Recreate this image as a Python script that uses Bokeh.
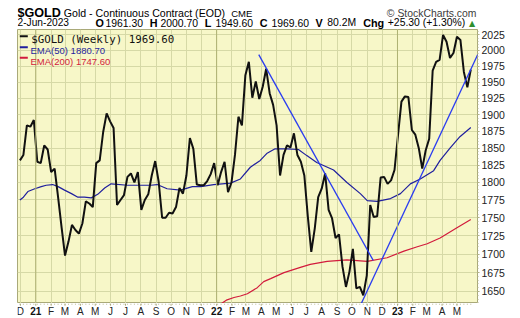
import pandas as pd
from bokeh.plotting import figure
from bokeh.layouts import column
from bokeh.models import (FixedTicker, NumeralTickFormatter, Label,
                          ColumnDataSource, Span, BoxAnnotation, Range1d)
from bokeh.core.properties import value
from bokeh.embed import file_html
from bokeh.resources import INLINE

# ---------------- data ----------------
symbol = "$GOLD"
description = "Gold - Continuous Contract (EOD)"
exchange = "CME"
as_of = "2-Jun-2023"
open_px, high_px, low_px, close_px = "1961.30", "2000.70", "1949.60", "1969.60"
volume = "80.2M"
change = "+25.30 (+1.30%)"
ema50_last = "1880.70"
ema200_last = "1747.60"

first_week = "2020-11-30"
gold_close = [
    1832, 1840, 1884, 1882, 1892, 1830, 1828, 1854, 1848, 1815,
    1820, 1779, 1737, 1698, 1717, 1740, 1733, 1728, 1742, 1773,
    1770, 1765, 1828, 1832, 1874, 1902, 1890, 1880, 1768, 1775,
    1782, 1808, 1813, 1800, 1815, 1761, 1775, 1783, 1810, 1831,
    1801, 1750, 1750, 1757, 1756, 1765, 1792, 1784, 1810, 1865,
    1849, 1797, 1796, 1796, 1802, 1812, 1828, 1796, 1815, 1830,
    1786, 1800, 1840, 1897, 1884, 1961, 1982, 1926, 1951, 1924,
    1943, 1971, 1933, 1915, 1884, 1810, 1840, 1854, 1851, 1872,
    1840, 1830, 1810, 1752, 1703, 1735, 1779, 1791, 1813, 1761,
    1749, 1722, 1727, 1683, 1656, 1676, 1707, 1654, 1656, 1645,
    1671, 1768, 1751, 1752, 1807, 1808, 1798, 1803, 1818, 1869,
    1920, 1928, 1927, 1877, 1870, 1850, 1820, 1847, 1864, 1968,
    1982, 1985, 2025, 2014, 1988, 1996, 2022, 2017, 1966, 1942,
    1969.6,
]

ema50_dates = [
    "2020-11-30", "2020-12-07", "2020-12-16", "2020-12-30", "2021-01-12",
    "2021-01-22", "2021-02-04", "2021-02-15", "2021-02-28", "2021-03-14",
    "2021-03-27", "2021-04-09", "2021-04-23", "2021-05-06", "2021-05-20",
    "2021-06-02", "2021-07-05", "2021-08-21", "2021-09-03", "2021-09-23",
    "2021-10-20", "2021-11-13", "2021-11-30", "2021-12-26", "2022-01-29",
    "2022-02-18", "2022-03-10", "2022-03-30", "2022-04-12", "2022-04-29",
    "2022-05-23", "2022-06-15", "2022-07-02", "2022-07-22", "2022-08-25",
    "2022-09-21", "2022-10-18", "2022-11-01", "2022-11-21", "2022-12-18",
    "2023-01-07", "2023-01-27", "2023-02-16", "2023-03-15", "2023-03-28",
    "2023-04-17", "2023-05-07", "2023-05-29",
]
ema50_values = [
    1775, 1779, 1787, 1791, 1794, 1796, 1797, 1794, 1789, 1784,
    1779, 1779, 1778, 1783, 1792, 1798, 1796, 1796, 1797, 1791,
    1789, 1794, 1794, 1797, 1799, 1805, 1822, 1832, 1842, 1849,
    1849, 1848, 1839, 1829, 1818, 1800, 1784, 1774, 1773, 1777,
    1784, 1798, 1805, 1817, 1832, 1850, 1867, 1880.7,
]

ema200_dates = [
    "2022-01-08", "2022-01-22", "2022-02-05", "2022-02-18", "2022-03-04",
    "2022-03-24", "2022-04-06", "2022-04-20", "2022-05-17", "2022-06-19",
    "2022-07-09", "2022-08-12", "2022-09-21", "2022-11-01", "2022-12-11",
    "2023-01-14", "2023-02-10", "2023-03-02", "2023-03-28", "2023-05-01",
    "2023-05-29",
]
ema200_values = [
    1633, 1639, 1642, 1644, 1647, 1655, 1663, 1667, 1675, 1682,
    1686, 1690, 1692, 1690, 1695, 1704, 1710, 1714, 1722, 1736,
    1747.6,
]

# hand-drawn trendlines (two points each)
down_trend_dates = ["2022-03-27", "2022-11-13"]
down_trend_values = [1993.5, 1691.4]
up_trend_dates = ["2022-10-17", "2023-06-12"]
up_trend_values = [1630.1, 1993.5]

month_tick_labels = ["D", "21", "F", "M", "A", "M", "J", "J", "A", "S", "O", "N",
                     "D", "22", "F", "M", "A", "M", "J", "J", "A", "S", "O", "N",
                     "D", "23", "F", "M", "A", "M"]
first_month = "2020-12-01"
year_tick_dates = ["2021-01-01", "2022-01-01", "2023-01-01"]
year_tick_labels = ["21", "22", "23"]
price_ticks = [1650, 1675, 1700, 1725, 1750, 1775, 1800, 1825, 1850, 1875,
               1900, 1925, 1950, 1975, 2000, 2025]

x_start, x_end = "2020-11-25 02:00", "2023-06-11 12:00"
y_low, y_high = 1634.2, 2033.8

# ---------------- layout constants ----------------
W = 520
HEADER_H, MAIN_H, STRIP_H = 29, 274, 15
FL, FR = 17, 43            # frame left offset / right border (shared by all rows)

BG = "#F7F7C8"
GRID = "#D6D9A6"
YEARLINE = "#AEB273"
FRAME = "#A9A979"
FONT = "Liberation Sans"


def ms(d):
    return pd.Timestamp(d).value // 10**6


week_dates = pd.date_range(first_week, periods=len(gold_close), freq="7D")
month_dates = pd.date_range(first_month, periods=len(month_tick_labels), freq="MS")
month_ms = [ms(d) for d in month_dates]
week_ms = [ms(d) for d in week_dates]
year_ms = [ms(d) for d in year_tick_dates]

# ---------------- main chart ----------------
x_range = Range1d(pd.Timestamp(x_start), pd.Timestamp(x_end))
p = figure(width=W, height=MAIN_H, x_axis_type="datetime", y_axis_type="log",
           x_axis_location=None, y_axis_location="right",
           toolbar_location=None, output_backend="svg",
           x_range=x_range, y_range=Range1d(y_low, y_high),
           min_border_left=FL, min_border_right=FR, min_border_top=0,
           min_border_bottom=0)
p.background_fill_color = BG
p.border_fill_color = "white"
p.outline_line_color = FRAME
p.outline_line_width = 1

p.xgrid.ticker = FixedTicker(ticks=month_ms)
p.xgrid.grid_line_color = GRID
p.xgrid.grid_line_width = 1

p.yaxis.ticker = FixedTicker(ticks=price_ticks,
                             minor_ticks=list(range(1635, 2035, 5)))
p.yaxis.formatter = NumeralTickFormatter(format="0")
p.yaxis.axis_line_color = None
p.yaxis.major_tick_line_color = FRAME
p.yaxis.major_tick_out = 2
p.yaxis.major_tick_in = 0
p.yaxis.minor_tick_line_color = "#B8B890"
p.yaxis.minor_tick_out = 1
p.yaxis.minor_tick_in = 0
p.yaxis.major_label_standoff = 2
p.yaxis.major_label_text_font = FONT
p.yaxis.major_label_text_font_size = "10.5px"
p.yaxis.major_label_text_color = "#222222"
p.ygrid.grid_line_color = GRID
p.ygrid.grid_line_width = 1

for yd in year_ms:
    p.add_layout(Span(location=yd, dimension="height", line_color=YEARLINE,
                      line_width=1))

p.line(pd.to_datetime(ema200_dates), ema200_values, line_color="#D21B3C",
       line_width=1.2)
p.line(pd.to_datetime(ema50_dates), ema50_values, line_color="#1F1F9E",
       line_width=1.2)
p.line(week_dates, gold_close, line_color="#111111", line_width=2)
p.line(pd.to_datetime(down_trend_dates), down_trend_values,
       line_color="#2A3CF0", line_width=1.3)
p.line(pd.to_datetime(up_trend_dates), up_trend_values,
       line_color="#2A3CF0", line_width=1.3)


# legend (page coordinates converted to this canvas)
def mlab(text, cx, cy, size, color, font=FONT):
    p.add_layout(Label(x=cx, y=cy - HEADER_H, x_units="canvas", y_units="canvas",
                       text=text, text_font=font, text_font_size=size,
                       text_color=color, text_baseline="alphabetic"))


FB = HEADER_H + MAIN_H
for top, color in [(34.7, "#111111"), (45.7, "#1F1F9E"), (56.3, "#D21B3C")]:
    p.add_layout(BoxAnnotation(left=19.3 - FL, right=27.3 - FL,
                               top=FB - top, bottom=FB - top - 2,
                               left_units="screen", right_units="screen",
                               top_units="screen", bottom_units="screen",
                               fill_color=color, fill_alpha=1, line_color=None))
mlab(f"{symbol} (Weekly) {close_px}", 30.7, 39.3, "10.8px", "#111111",
     font="DejaVu Sans Mono")
mlab(f"EMA(50) {ema50_last}", 30, 50, "9.5px", "#1F1F9E")
mlab(f"EMA(200) {ema200_last}", 30, 61, "9.5px", "#D21B3C")

# ---------------- header strip (frame aligned with the chart: x = page x) ----
h = figure(width=W, height=HEADER_H, toolbar_location=None, output_backend="svg",
           x_axis_location=None, y_axis_location=None,
           x_range=Range1d(FL, W - FR), y_range=Range1d(HEADER_H, 0),
           min_border_left=FL, min_border_right=FR, min_border_top=0,
           min_border_bottom=0)
h.grid.visible = False
h.outline_line_color = None
h.background_fill_color = "white"
h.border_fill_color = "white"


def hlab(text, x, y, size, style="normal", color="#000000", font=FONT,
         align="left", baseline="alphabetic"):
    h.text(x=[x], y=[y], text=[text], text_font=value(font),
           text_font_size=value(size), text_font_style=style,
           text_color=color, text_align=align, text_baseline=baseline)


hlab(symbol, 17, 12.7, "12.6px", "bold")
hlab(description, 63.3, 12.7, "10.6px")
hlab(exchange, 230.7, 12.7, "9.5px")
hlab("\u00a9 StockCharts.com", 476, 12.7, "10.4px", color="#3c3c3c", align="right")
ROW2_MID = 22.3
hlab(as_of, 17, ROW2_MID, "10.2px", baseline="middle")
for letter, lx, val, vx in [("O", 95, open_px, 105), ("H", 149.3, high_px, 160),
                            ("L", 204.3, low_px, 215), ("C", 259.3, close_px, 271),
                            ("V", 315, volume, 326.7), ("Chg", 362.7, change, 387.3)]:
    hlab(letter, lx, ROW2_MID, "10.8px", "bold", baseline="middle")
    hlab(val, vx, ROW2_MID, "10.4px", baseline="middle")
hlab("\u25b2", 471.7, 22.5, "8px", color="#2f8f2f", font="DejaVu Sans",
     align="center", baseline="middle")

# ---------------- x-axis label strip (shares the chart's time scale) --------
s = figure(width=W, height=STRIP_H, toolbar_location=None, output_backend="svg",
           x_axis_location=None, y_axis_location=None,
           x_range=x_range, y_range=Range1d(STRIP_H, 0),
           min_border_left=FL, min_border_right=FR, min_border_top=0,
           min_border_bottom=0)
s.grid.visible = False
s.outline_line_color = None
s.background_fill_color = "white"
s.border_fill_color = "white"

s.segment(x0=week_ms, y0=[0] * len(week_ms), x1=week_ms, y1=[1.2] * len(week_ms),
          line_color="#B8B890", line_width=1)
s.segment(x0=month_ms, y0=[0] * len(month_ms), x1=month_ms, y1=[2.2] * len(month_ms),
          line_color=FRAME, line_width=1)

mon_src = ColumnDataSource(dict(
    x=[t for t, l in zip(month_ms, month_tick_labels) if l not in year_tick_labels],
    t=[l for l in month_tick_labels if l not in year_tick_labels]))
yr_src = ColumnDataSource(dict(
    x=[t for t, l in zip(month_ms, month_tick_labels) if l in year_tick_labels],
    t=[l for l in month_tick_labels if l in year_tick_labels]))
s.text(x="x", y=7.9, text="t", source=mon_src, text_font=value(FONT),
       text_font_size=value("10px"), text_color="#222222",
       text_align="center", text_baseline="middle")
s.text(x="x", y=7.9, text="t", source=yr_src, text_font=value(FONT),
       text_font_size=value("10px"), text_font_style="bold", text_color="#111111",
       text_align="center", text_baseline="middle")

layout = column(h, p, s, spacing=0)
open("out.html", "w").write(file_html(layout, INLINE))
